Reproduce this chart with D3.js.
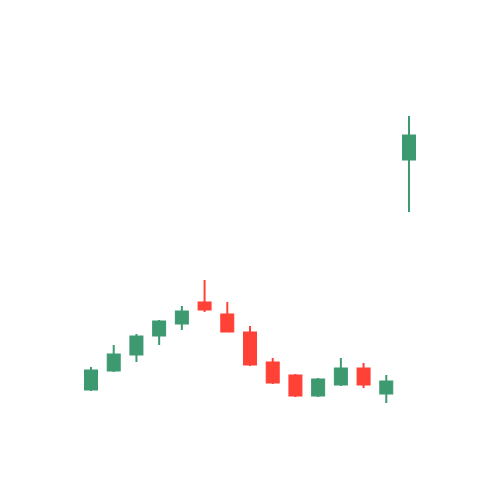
<!DOCTYPE html>
<html>
<head>
<meta charset="utf-8">
<script src="https://d3js.org/d3.v7.min.js"></script>
<style>body{margin:0;background:#fff;}</style>
</head>
<body>
<div id="chart"></div>
<script>
// candle data
var days  = [1, 2, 3, 4, 5, 6, 7, 8, 9, 10, 11, 12, 13, 14, 15];
var open  = [27.5, 32.25, 36.25, 41, 44, 49.5, 46.5, 42, 34.5, 31.25, 26, 28.75, 33, 26.5, 85];
var close = [32.5, 36.5, 41, 44.75, 47.25, 47.5, 42, 33.75, 29.25, 26, 30.25, 33, 28.75, 29.75, 91.25];
var high  = [33.25, 38.75, 41.5, 45, 48.5, 55, 49.5, 43.5, 35.5, 31.5, 30.5, 35.5, 34.25, 31.25, 96];
var low   = [27.25, 32, 34.5, 38.75, 42.5, 47, 42, 33.5, 29, 25.75, 25.75, 28.5, 28, 24.25, 72];

var width = 500, height = 500;
var svg = d3.select("#chart").append("svg")
    .attr("width", width).attr("height", height);

var x = d3.scaleLinear().domain([1, 15]).range([91, 409]);
var y = d3.scaleLinear().domain([0, 125]).range([500, 0]);

var up = "#3d9970", down = "#ff4136";

var g = svg.append("g").selectAll("g").data(days).enter().append("g");

g.append("line")
  .attr("x1", function(d, i) { return x(d); })
  .attr("x2", function(d, i) { return x(d); })
  .attr("y1", function(d, i) { return y(high[i]); })
  .attr("y2", function(d, i) { return y(low[i]); })
  .attr("stroke", function(d, i) { return close[i] >= open[i] ? up : down; })
  .attr("stroke-width", 2);

g.append("rect")
  .attr("x", function(d) { return x(d) - 6.5; })
  .attr("width", 13)
  .attr("y", function(d, i) { return y(Math.max(open[i], close[i])); })
  .attr("height", function(d, i) { return Math.max(1, Math.abs(y(open[i]) - y(close[i]))); })
  .attr("fill", function(d, i) { return close[i] >= open[i] ? up : down; })
  .attr("stroke", function(d, i) { return close[i] >= open[i] ? up : down; })
  .attr("stroke-width", 1);
</script>
</body>
</html>
